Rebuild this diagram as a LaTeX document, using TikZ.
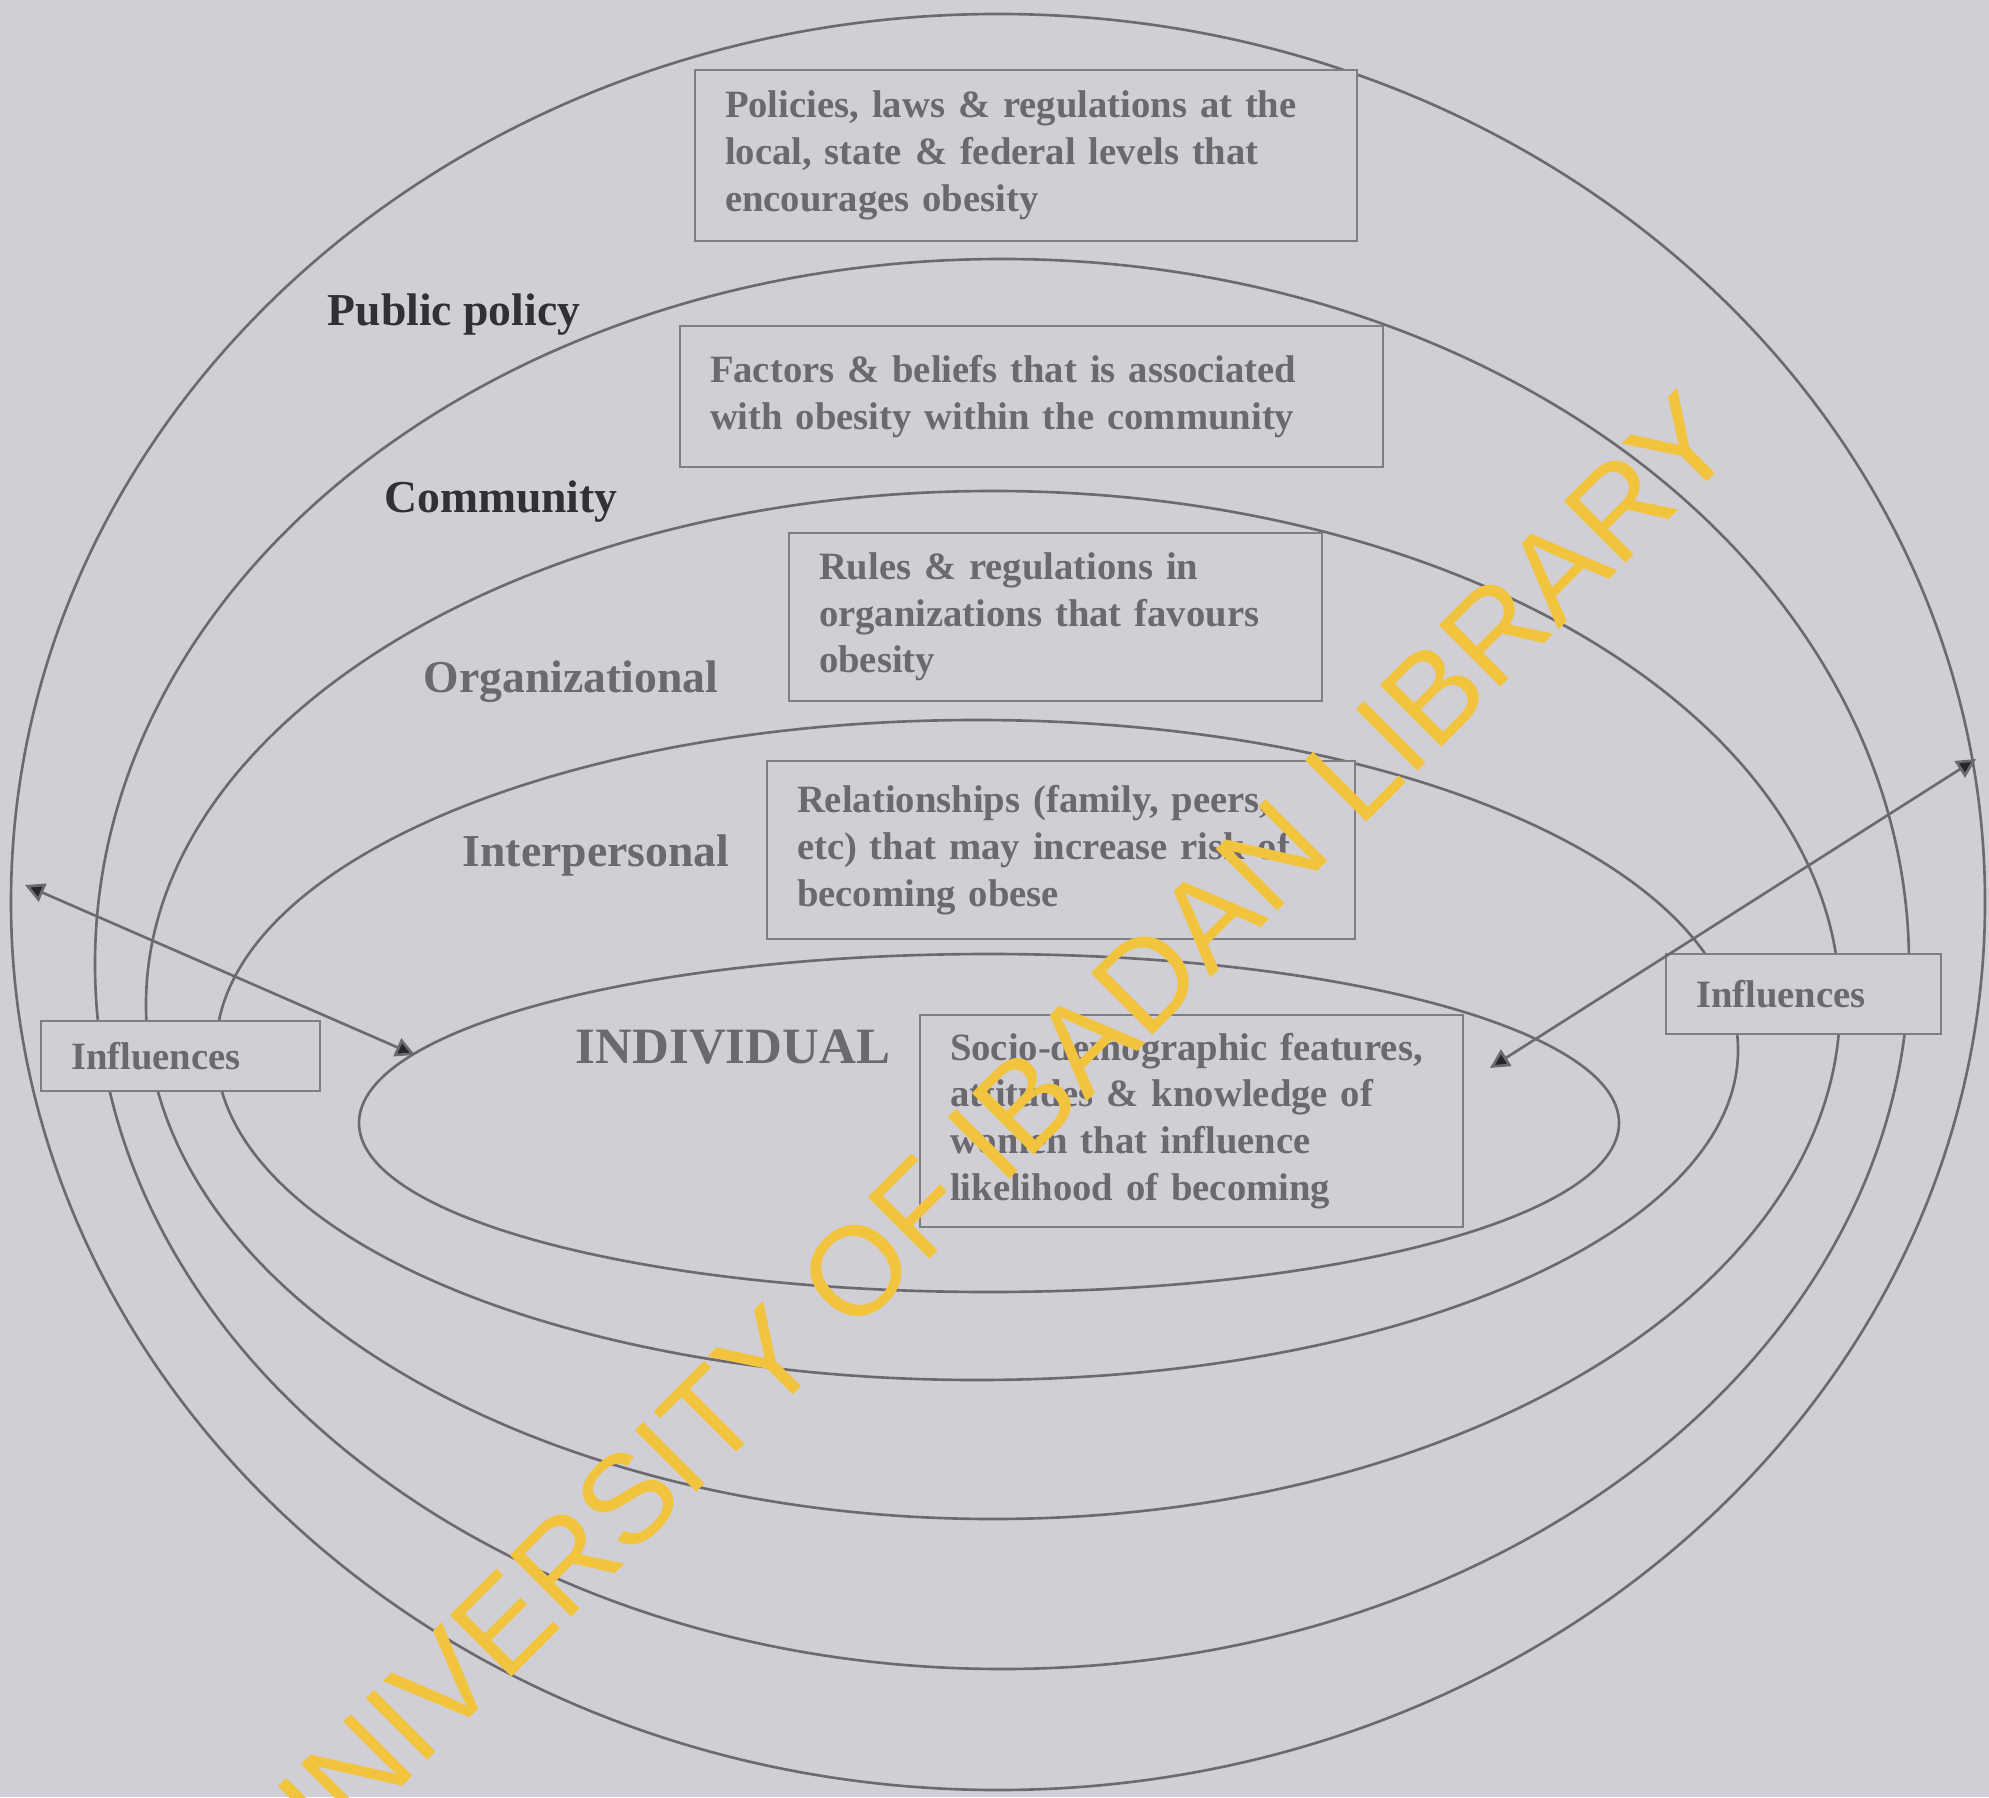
\documentclass[tikz,border=0pt]{standalone}
\usepackage{fontspec}
\setmainfont{Liberation Serif}
\newfontfamily\markfont{Liberation Sans}
\usetikzlibrary{arrows.meta,positioning,shapes.geometric}
\definecolor{paper}{RGB}{208,207,214}
\definecolor{ringgray}{RGB}{108,106,112}
\definecolor{boxgray}{RGB}{128,126,132}
\definecolor{boxtext}{RGB}{108,104,112}
\definecolor{darklabel}{RGB}{48,48,54}
\definecolor{marky}{RGB}{242,196,62}

\begin{document}
\begin{tikzpicture}[line width=0.75pt,
  ring/.style={ellipse,draw=ringgray,inner sep=0pt},
  info box/.style={rectangle,draw=boxgray,fill=paper,align=left,inner xsep=0.3cm,text=boxtext,font=\bfseries\fontsize{11}{13.3}\selectfont},
  level label/.style={font=\bfseries\fontsize{13}{15}\selectfont,text=boxtext},
  influence/.style={draw=ringgray,{Triangle[length=5.5pt,width=5.5pt,fill=black!85]}-{Triangle[length=5.5pt,width=5.5pt,fill=black!85]}}]
\useasboundingbox[fill=paper] (0,0) rectangle (19.89,17.97);
% the five levels
\begin{scope}
\node[ring,minimum width=19.74cm,minimum height=17.76cm] (policy) at (9.98,8.95) {};
\node[ring,minimum width=18.14cm,minimum height=14.10cm] (community) at (10.02,8.33) {};
\node[ring,minimum width=16.94cm,minimum height=10.28cm] (organization) at (9.93,7.92) {};
\node[ring,minimum width=15.22cm,minimum height=6.60cm] (interpersonal) at (9.77,7.47) {};
\node[ring,minimum width=12.60cm,minimum height=3.38cm] (individual) at (9.89,6.74) {};
\end{scope}
% level names
\begin{scope}
\node[level label,text=darklabel] (lpolicy) at (4.54,14.82) {Public policy};
\node[level label,text=darklabel] (lcommunity) at (5.01,12.95) {Community};
\node[level label] (lorganization) at (5.71,11.15) {Organizational};
\node[level label] (linterpersonal) at (5.96,9.41) {Interpersonal};
\node[level label,font=\bfseries\fontsize{14.5}{16}\selectfont] (lindividual) at (7.33,7.50) {INDIVIDUAL};
\end{scope}
% descriptions
\begin{scope}
\node[info box,text width=6.02cm,minimum height=1.71cm] (bpolicy) at (10.26,16.415) {Policies, laws \& regulations at the\\local, state \& federal levels that\\encourages obesity};
\node[info box,text width=6.43cm,minimum height=1.41cm] (bcommunity) at (10.315,14.005) {Factors \& beliefs that is associated\\with obesity within the community};
\node[info box,text width=4.73cm,minimum height=1.68cm] (borganization) at (10.555,11.80) {Rules \& regulations in\\organizations that favours\\obesity};
\node[info box,text width=5.28cm,minimum height=1.78cm] (binterpersonal) at (10.61,9.47) {Relationships (family, peers,\\etc) that may increase risk of\\becoming obese};
\node[info box,text width=4.83cm,minimum height=2.12cm] (bindividual) at (11.915,6.76) {Socio-demographic features,\\attitudes \& knowledge of\\women that influence\\likelihood of becoming};
\node[info box,text width=2.19cm,minimum height=0.70cm] (infl) at (1.805,7.41) {Influences};
\node[info box,text width=2.15cm,minimum height=0.80cm] (infr) at (18.035,8.03) {Influences};
\end{scope}
% influence arrows
\coordinate (outl) at (0.25,9.12);
\coordinate (inl) at (4.15,7.42);
\coordinate (outr) at (19.76,10.38);
\coordinate (inr) at (14.90,7.29);
\draw[influence] (outl) -- (inl);
\draw[influence] (outr) -- (inr);
\node[rotate=45,text=marky,font=\markfont\fontsize{36}{36}\selectfont] (mark) at (9.85,6.55) {UNIVERSITY OF IBADAN LIBRARY};
\end{tikzpicture}
\end{document}
